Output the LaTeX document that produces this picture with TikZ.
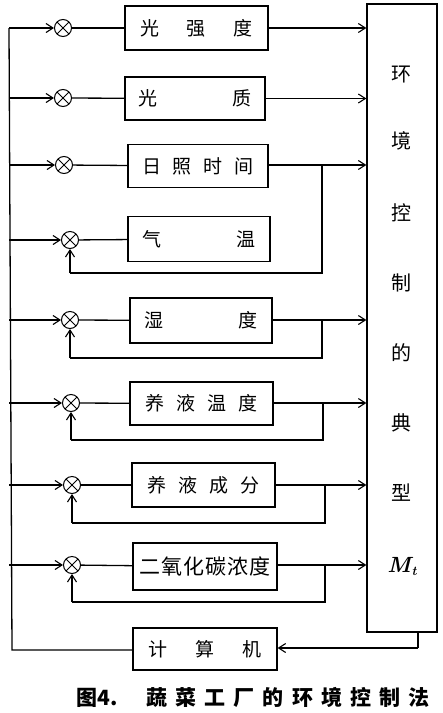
\documentclass[tikz,border=0pt]{standalone}
\usepackage{fontspec}
\newfontfamily\cjk{Noto Sans CJK SC}
\usetikzlibrary{arrows.meta,calc}
\newcommand{\sprd}[2]{\hbox to #1{#2}}
\begin{document}
\begin{tikzpicture}[x=1pt,y=-1pt,
  line width=1.3pt,
  arr/.style={-{Straight Barb[length=7pt,width=9pt,line width=1.1pt]}},
  mult/.style={circle,draw,line width=1pt,minimum size=17pt,inner sep=0pt,
    path picture={\draw[line width=1pt,shift={(path picture bounding box.center)}] (45:9pt)--(225:9pt) (135:9pt)--(315:9pt);}},
  blk/.style={draw,line width=1.3pt,font=\cjk\fontsize{19}{19}\selectfont,inner sep=0pt,anchor=center},
  txt/.style={font=\cjk\fontsize{20}{20}\selectfont,inner sep=0pt}]
\useasboundingbox (0,0) rectangle (443,713);
% main box
\node[draw,line width=1.3pt,minimum width=70pt,minimum height=628pt,inner sep=0pt] (M) at (402,318) {};
\foreach \ch/\yy [count=\i] in {环/75,境/141,控/213,制/283,的/353,典/423,型/493}
  \node[txt] (t\i) at (401,\yy) {\ch};
\node[inner sep=0pt,font=\bfseries\itshape\fontsize{22}{22}\selectfont] (t8) at (402,566) {M\kern0.5pt\raisebox{-3pt}{\fontsize{13}{13}\selectfont t}};
% blocks
\node[blk,minimum width=143pt,minimum height=44pt] (b1) at (196.5,28) {\sprd{113pt}{光\hfil 强\hfil 度}};
\node[blk,minimum width=140pt,minimum height=43pt] (b2) at (195,98.5) {\sprd{113pt}{光\hfil 质}};
\node[blk,minimum width=140pt,minimum height=43pt] (b3) at (198,166) {\sprd{112pt}{日\hfil 照\hfil 时\hfil 间}};
\node[blk,minimum width=142pt,minimum height=45pt] (b4) at (199,239) {\sprd{113pt}{气\hfil 温}};
\node[blk,minimum width=142pt,minimum height=45pt] (b5) at (201,320.5) {\sprd{113pt}{湿\hfil 度}};
\node[blk,minimum width=143pt,minimum height=43pt] (b6) at (201.5,403.5) {\sprd{113pt}{养\hfil 液\hfil 温\hfil 度}};
\node[blk,minimum width=143pt,minimum height=44pt] (b7) at (203.5,485) {\sprd{113pt}{养\hfil 液\hfil 成\hfil 分}};
\node[blk,minimum width=144pt,minimum height=47pt] (b8) at (205,566.5) {\fontsize{21}{21}\selectfont\sprd{131pt}{二\hfil 氧\hfil 化\hfil 碳\hfil 浓\hfil 度}};
\node[blk,minimum width=144pt,minimum height=42pt] (C) at (205,649) {\sprd{113pt}{计\hfil 算\hfil 机}};
% multipliers
\node[mult] (m1) at (63,28) {};
\node[mult] (m2) at (63,98) {};
\node[mult] (m3) at (64,165) {};
\node[mult] (m4) at (70,240) {};
\node[mult] (m5) at (70,320) {};
\node[mult] (m6) at (71,403) {};
\node[mult] (m7) at (72,485) {};
\node[mult] (m8) at (72,565) {};
% left bus
\coordinate (Ltop) at (9,28);
\coordinate (Lbot) at (12,650);
\draw (C.west |- Lbot) -- (Lbot) -- (Ltop);
\draw[arr] (Ltop) -- (m1);
\foreach \i in {2,...,8} \draw[arr] (m\i -| Ltop) -- (m\i);
% multiplier to block
\foreach \i in {1,...,8} \draw (m\i) -- (b\i);
% direct outputs
\draw[arr] (b1.east) -- (b1.east -| M.west);
\draw[arr] (b2.east) -- (b2.east -| M.west);
% junction outputs with feedback
\coordinate (j3) at (322,165); \coordinate (f3) at (322,273);
\coordinate (j5) at (322,320); \coordinate (f5) at (322,358);
\coordinate (j6) at (323,403); \coordinate (f6) at (323,440);
\coordinate (j7) at (325,485); \coordinate (f7) at (325,523);
\coordinate (j8) at (325,565); \coordinate (f8) at (325,602);
\draw (b3.east |- j3) -- (j3) -- (f3) -- (f3 -| m4);
\draw[arr] (f3 -| m4) -- (m4);
\draw[arr] (j3) -- (j3 -| M.west);
\foreach \i in {5,6,7,8} {
  \draw (b\i.east |- j\i) -- (j\i) -- (f\i) -- (f\i -| m\i);
  \draw[arr] (f\i -| m\i) -- (m\i);
  \draw[arr] (j\i) -- (j\i -| M.west);
}
% computer feedback
\coordinate (cb) at (418,648);
\draw (M.south -| cb) -- (cb);
\draw[arr] (cb) -- (C.east |- cb);
% caption
\node[font=\cjk\bfseries\fontsize{21}{21}\selectfont,inner sep=0pt] (cap) at (253,697) {\hbox to 353pt{图4.\hfil\hbox to 283pt{蔬\hfil 菜\hfil 工\hfil 厂\hfil 的\hfil 环\hfil 境\hfil 控\hfil 制\hfil 法}}};
\end{tikzpicture}
\end{document}
